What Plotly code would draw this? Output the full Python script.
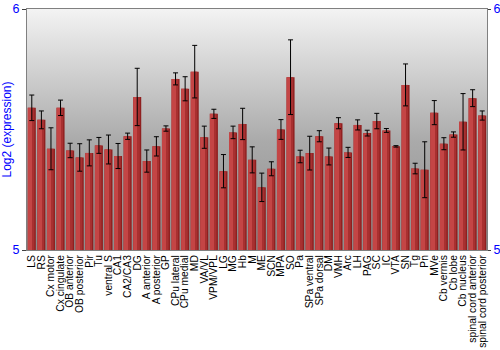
import base64
import plotly.graph_objects as go

categories = ["LS", "RS", "Cx motor", "Cx cingulate", "OB anterior", "OB posterior", "Pir", "Tu",
              "ventral S", "CA1", "CA2/CA3", "DG", "A anterior", "A posterior", "GP", "CPu lateral",
              "CPu medial", "MD", "VA/VL", "VPM/VPL", "LG", "MG", "Hb", "M", "ME", "SCN", "MPA", "SO",
              "Pa", "SPa ventral", "SPa dorsal", "DM", "VMH", "Arc", "LH", "PAG", "SC", "IC", "VTA",
              "SN", "Tg", "Pn", "MVe", "Cb vermis", "Cb lobe", "Cb nucleus",
              "spinal cord anterior", "spinal cord posterior"]

values = [5.590, 5.540, 5.420, 5.590, 5.413, 5.384, 5.403, 5.434,
          5.417, 5.390, 5.472, 5.635, 5.369, 5.430, 5.504, 5.710,
          5.669, 5.740, 5.468, 5.565, 5.327, 5.488, 5.523, 5.374, 5.260, 5.337, 5.500, 5.717,
          5.388, 5.402, 5.472, 5.388, 5.526, 5.405, 5.519, 5.485, 5.535, 5.496, 5.430,
          5.685, 5.338, 5.333, 5.570, 5.441, 5.479, 5.532,
          5.630, 5.558]

errors = [0.053, 0.037, 0.087, 0.032, 0.030, 0.057, 0.054, 0.033,
          0.060, 0.052, 0.013, 0.119, 0.046, 0.040, 0.011, 0.025,
          0.050, 0.109, 0.046, 0.019, 0.069, 0.026, 0.065, 0.054, 0.059, 0.029, 0.041, 0.155,
          0.026, 0.070, 0.023, 0.035, 0.023, 0.021, 0.021, 0.012, 0.032, 0.008, 0.003,
          0.087, 0.022, 0.116, 0.050, 0.025, 0.011, 0.117,
          0.035, 0.019]

y_range = [5, 6]
y_ticks = [5, 6]

n = len(categories)
idx = list(range(n))
heights = [v - y_range[0] for v in values]

# vertical gray gradient background as an SVG image
svg = ('<svg xmlns="http://www.w3.org/2000/svg" width="100" height="100" preserveAspectRatio="none">'
       '<defs><linearGradient id="g" x1="0" y1="0" x2="0" y2="1">'
       '<stop offset="0" stop-color="#f3f3f3"/><stop offset="0.55" stop-color="#aaaaaa"/>'
       '<stop offset="1" stop-color="#8c8c8c"/></linearGradient></defs>'
       '<rect width="100" height="100" fill="url(#g)"/></svg>')
bg_src = "data:image/svg+xml;base64," + base64.b64encode(svg.encode()).decode()

fig = go.Figure()

# bars: darker base with lighter left part to mimic the gradient
fig.add_trace(go.Bar(
    x=idx, y=heights, base=y_range[0], width=0.84,
    marker=dict(color="#8f1f1f", line=dict(width=0)),
    showlegend=False,
))
fig.add_trace(go.Bar(
    x=idx, y=heights, base=y_range[0], width=0.5, offset=-0.42,
    marker=dict(color="#c44545", line=dict(width=0)),
    showlegend=False, hoverinfo="skip",
))
fig.add_trace(go.Bar(
    x=idx, y=heights, base=y_range[0], width=0.2, offset=0.08,
    marker=dict(color="#a83030", line=dict(width=0)),
    showlegend=False, hoverinfo="skip",
))
# error bars on top
fig.add_trace(go.Scatter(
    x=idx, y=values, mode="markers", marker=dict(size=1, opacity=0),
    error_y=dict(type="data", array=errors, color="black", thickness=1, width=2.5),
    showlegend=False, hoverinfo="skip",
))
# invisible trace for right axis
fig.add_trace(go.Scatter(x=[0], y=[y_range[0]], yaxis="y2", mode="markers",
                         marker=dict(opacity=0), showlegend=False, hoverinfo="skip"))

fig.update_layout(
    width=500, height=350,
    margin=dict(l=27, r=13, t=9, b=100),
    paper_bgcolor="white", plot_bgcolor="rgba(0,0,0,0)",
    barmode="overlay",
    font=dict(family="Liberation Sans, Arial, sans-serif"),
    images=[dict(source=bg_src, xref="paper", yref="paper", x=0, y=1, sizex=1, sizey=1,
                 xanchor="left", yanchor="top", sizing="stretch", layer="below")],
    xaxis=dict(
        range=[-0.5, n - 0.5], tickmode="array", tickvals=idx, ticktext=categories,
        tickangle=-90, tickfont=dict(size=10.3, color="black"), ticks="",
        showgrid=False, zeroline=False, showline=True, mirror=True, linecolor="#808080",
        automargin=False,
    ),
    yaxis=dict(
        range=y_range, tickvals=y_ticks, tickfont=dict(size=12.5, color="blue"),
        ticks="outside", ticklen=4, tickcolor="#404040",
        showgrid=False, zeroline=False, showline=True, linecolor="#808080",
        title=dict(text="Log2 (expression)", font=dict(size=12, color="blue"), standoff=0),
        automargin=False,
    ),
    yaxis2=dict(
        range=y_range, tickvals=y_ticks, overlaying="y", side="right",
        tickfont=dict(size=12.5, color="blue"), ticks="outside", ticklen=3, tickcolor="#404040",
        showgrid=False, zeroline=False, showline=True, linecolor="#808080",
        automargin=False, ticklabelstandoff=0,
    ),
)

fig.write_html("out.html")
